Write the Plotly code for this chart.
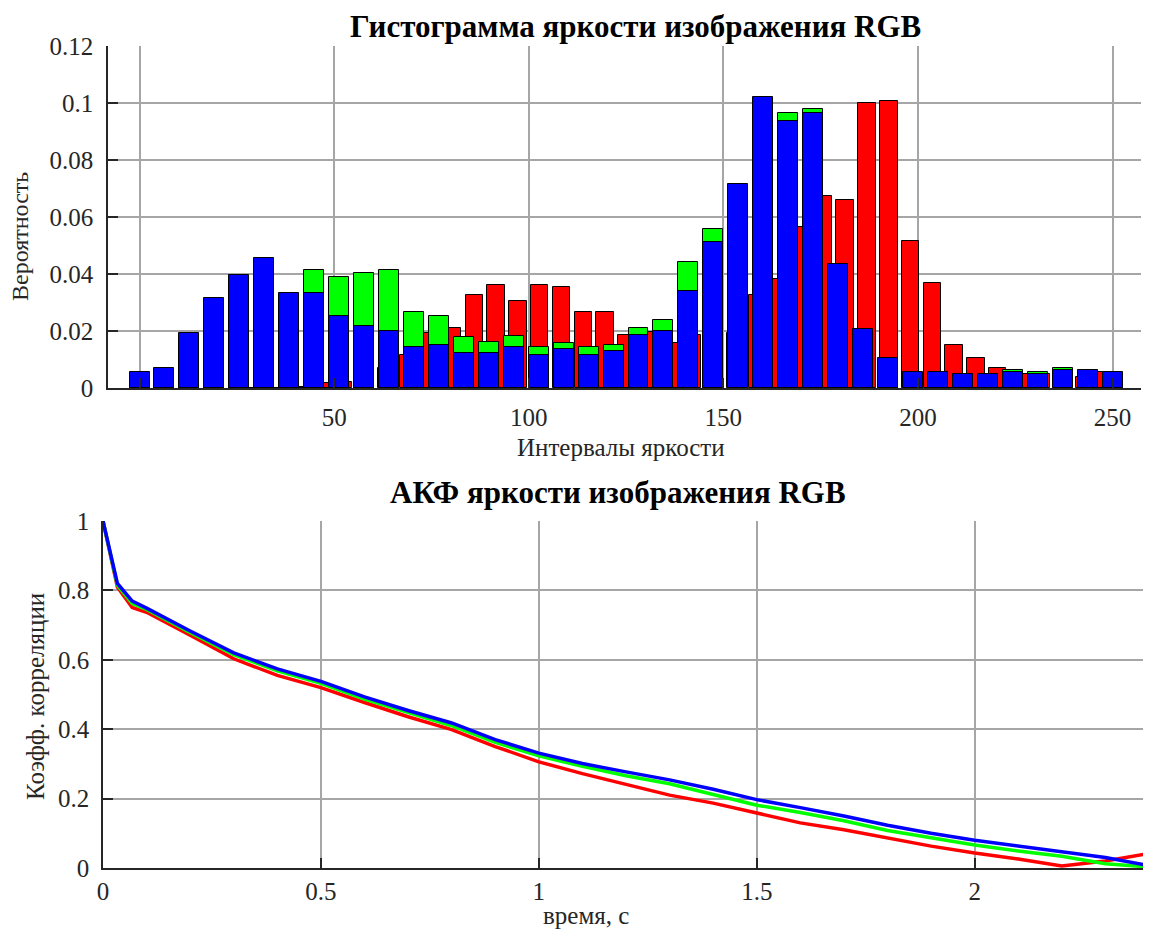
import plotly.graph_objects as go

# Histogram bins (brightness interval centers)
gb_centers = [0.0, 6.4, 12.8, 19.2, 25.6, 32.1, 38.5, 44.9, 51.3, 57.7,
              64.1, 70.5, 76.9, 83.3, 89.7, 96.2, 102.6, 109.0, 115.4, 121.8,
              128.2, 134.6, 141.0, 147.4, 153.8, 160.3, 166.7, 173.1, 179.5, 185.9,
              192.3, 198.7, 205.1, 211.5, 217.9, 224.4, 230.8, 237.2, 243.6, 250.0]
r_centers = [29.9, 35.5, 41.1, 46.7, 52.3, 57.9, 63.5, 69.1, 74.7, 80.4,
             86.0, 91.6, 97.2, 102.8, 108.4, 114.0, 119.6, 125.2, 130.8, 136.4,
             142.0, 147.6, 153.2, 158.8, 164.4, 170.0, 175.7, 181.3, 186.9, 192.5,
             198.1, 203.7, 209.3, 214.9, 220.5, 226.1, 231.7, 237.3, 242.9, 248.5]

r_prob = [0, 0, 0.0005, 0.0016, 0.0022, 0.004, 0.007, 0.0116, 0.0192, 0.0212,
          0.0326, 0.0361, 0.0306, 0.0360, 0.0353, 0.0266, 0.0266, 0.0185, 0.0198, 0.0157,
          0.0186, 0.018, 0.0192, 0.0326, 0.0381, 0.0565, 0.0674, 0.066, 0.0999, 0.1006,
          0.0517, 0.0368, 0.0151, 0.0104, 0.0069, 0.0049, 0.0049, 0.0042, 0.004, 0.0055]
g_prob = [0.005, 0.0065, 0.018, 0.030, 0.038, 0.044, 0.032, 0.0415, 0.0388, 0.0402,
          0.0415, 0.0266, 0.0251, 0.0178, 0.0163, 0.0184, 0.0144, 0.0157, 0.0144, 0.0151,
          0.0212, 0.0239, 0.0442, 0.0558, 0.070, 0.100, 0.0964, 0.0978, 0.042, 0.020,
          0.010, 0.005, 0.005, 0.0045, 0.0045, 0.0062, 0.0055, 0.0069, 0.006, 0.005]
b_prob = [0.0055, 0.0069, 0.0192, 0.0315, 0.0395, 0.0455, 0.0333, 0.0333, 0.0251, 0.0219,
          0.0199, 0.0144, 0.0151, 0.0124, 0.0124, 0.0144, 0.0117, 0.0137, 0.0117, 0.0130,
          0.0185, 0.0199, 0.034, 0.0511, 0.0715, 0.102, 0.0938, 0.0966, 0.0436, 0.0206,
          0.0104, 0.0055, 0.0055, 0.0049, 0.0049, 0.0055, 0.0049, 0.0062, 0.0062, 0.0055]

# Autocorrelation vs time
t = [0, 0.033, 0.067, 0.1, 0.2, 0.3, 0.4, 0.5, 0.6, 0.7, 0.8, 0.9, 1.0, 1.1, 1.2,
     1.3, 1.4, 1.5, 1.6, 1.7, 1.8, 1.9, 2.0, 2.1, 2.2, 2.3, 2.4]
acf_r = [1.0, 0.81, 0.751, 0.737, 0.671, 0.603, 0.555, 0.52, 0.477, 0.436, 0.399, 0.35,
         0.306, 0.272, 0.241, 0.21, 0.187, 0.158, 0.13, 0.11, 0.086, 0.063, 0.043,
         0.026, 0.006, 0.02, 0.042]
acf_g = [1.0, 0.815, 0.762, 0.745, 0.679, 0.615, 0.568, 0.532, 0.487, 0.448, 0.41, 0.362,
         0.323, 0.293, 0.266, 0.243, 0.213, 0.181, 0.16, 0.136, 0.108, 0.088, 0.066,
         0.049, 0.034, 0.012, 0.003]
acf_b = [1.0, 0.82, 0.769, 0.749, 0.683, 0.62, 0.574, 0.538, 0.493, 0.454, 0.418, 0.37,
         0.331, 0.301, 0.277, 0.254, 0.227, 0.197, 0.174, 0.15, 0.123, 0.10, 0.08,
         0.063, 0.048, 0.03, 0.007]

# page body has an 8px margin, so the figure is shrunk and positions are shifted
OFF = 8
W, H = 1151 - OFF, 941 - OFF
serif = "Liberation Serif, Times New Roman, serif"


def fx(px):
    return (px - OFF) / W


def fy(py):
    return 1 - (py - OFF) / H


fig = go.Figure()

# Histogram: red below, green, blue on top
for xs, ys, col, step in [(r_centers, r_prob, '#ff0000', 5.606),
                          (gb_centers, g_prob, '#00ff00', 6.41),
                          (gb_centers, b_prob, '#0000ff', 6.41)]:
    fig.add_trace(go.Bar(x=xs, y=ys, width=0.8 * step, marker_color=col,
                         marker_line_color='black', marker_line_width=1,
                         xaxis='x', yaxis='y', showlegend=False))

for ys, col in [(acf_r, '#ff0000'), (acf_g, '#00ff00'), (acf_b, '#0000ff')]:
    fig.add_trace(go.Scatter(x=t, y=ys, mode='lines', line=dict(color=col, width=3.5),
                             xaxis='x2', yaxis='y2', showlegend=False))

axis_style = dict(showgrid=True, gridcolor='#a6a6a6', gridwidth=1.5,
                  showline=True, linecolor='#262626', linewidth=1.5,
                  ticks='inside', ticklen=10, tickcolor='#262626', tickwidth=1.5,
                  zeroline=False, automargin=False,
                  tickfont=dict(family=serif, size=25, color='#262626'))

fig.update_layout(
    width=W, height=H, margin=dict(l=0, r=0, t=0, b=0, autoexpand=False),
    paper_bgcolor='white', plot_bgcolor='white', barmode='overlay', bargap=0,
    xaxis=dict(domain=[fx(108), fx(1141)], range=[-8.1, 257.3],
               tickvals=[0, 50, 100, 150, 200, 250],
               ticktext=['', '50', '100', '150', '200', '250'],
               ticklabelstandoff=6, anchor='y', **axis_style),
    yaxis=dict(domain=[fy(388), fy(46)], range=[0, 0.12],
               tickvals=[0, 0.02, 0.04, 0.06, 0.08, 0.1, 0.12],
               ticktext=['0', '0.02', '0.04', '0.06', '0.08', '0.1', '0.12'],
               ticklabelstandoff=8, anchor='x', **axis_style),
    xaxis2=dict(domain=[fx(103), fx(1149)], range=[0, 2.4],
                tickvals=[0, 0.5, 1, 1.5, 2], ticktext=['0', '0.5', '1', '1.5', '2'],
                anchor='y2', **axis_style),
    yaxis2=dict(domain=[fy(868), fy(521)], range=[0, 1],
                tickvals=[0, 0.2, 0.4, 0.6, 0.8, 1],
                ticktext=['0', '0.2', '0.4', '0.6', '0.8', '1'],
                ticklabelstandoff=7, anchor='x2', **axis_style),
)

# Titles and axis labels
labels = [
    ("Гистограмма яркости изображения RGB", 635, 27, 31, True, 0),
    ("Интервалы яркости", 621, 447, 25, False, 0),
    ("Вероятность", 20, 237, 24, False, -90),
    ("АКФ яркости изображения RGB", 618, 492, 31, True, 0),
    ("время, с", 586, 915, 25, False, 0),
    ("Коэфф. корреляции", 35, 697, 25, False, -90),
]
for text, px, py, size, bold, ang in labels:
    fig.add_annotation(text=f"<b>{text}</b>" if bold else text,
                       x=fx(px), y=fy(py), xref='paper', yref='paper',
                       xanchor='center', yanchor='middle', showarrow=False,
                       textangle=ang,
                       font=dict(family=serif, size=size,
                                 color='black' if bold else '#262626'))

fig.write_html("out.html")
